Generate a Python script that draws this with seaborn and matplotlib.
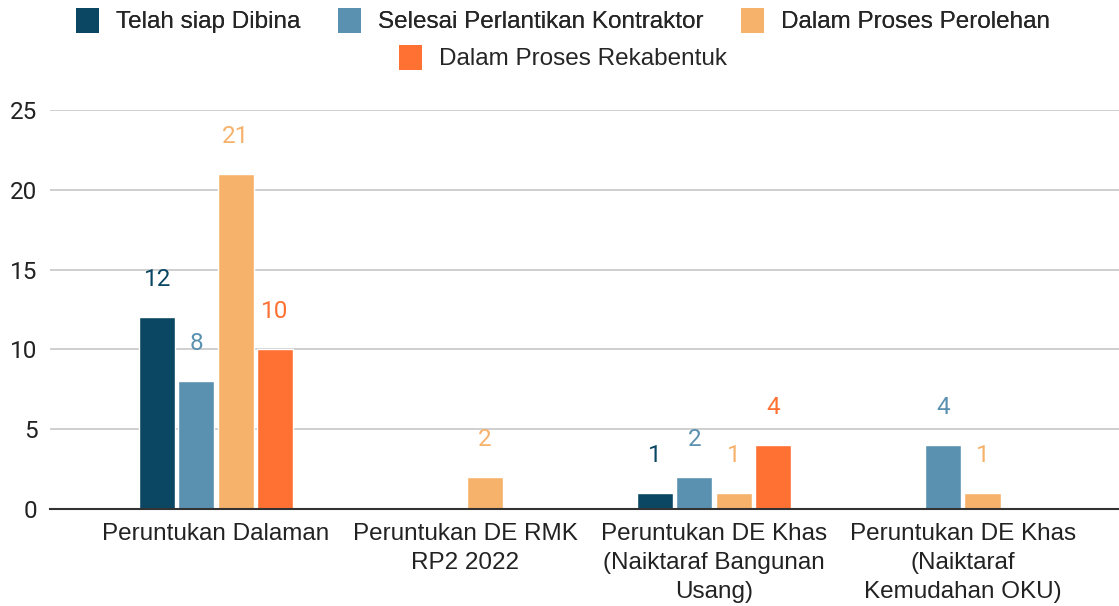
import matplotlib.pyplot as plt
import pandas as pd
import seaborn as sns

# Chart data
categories = [
    "Peruntukan Dalaman",
    "Peruntukan DE RMK\nRP2 2022",
    "Peruntukan DE Khas\n(Naiktaraf Bangunan\nUsang)",
    "Peruntukan DE Khas\n(Naiktaraf\nKemudahan OKU)",
]
series_names = [
    "Telah siap Dibina",
    "Selesai Perlantikan Kontraktor",
    "Dalam Proses Perolehan",
    "Dalam Proses Rekabentuk",
]
telah_siap = [12, 0, 1, 0]
selesai_lantik = [8, 0, 2, 4]
proses_perolehan = [21, 2, 1, 1]
proses_rekabentuk = [10, 0, 4, 0]
y_ticks = [0, 5, 10, 15, 20, 25]

colors = ["#0b4763", "#5b91b0", "#f6b26b", "#ff7133"]

values = [telah_siap, selesai_lantik, proses_perolehan, proses_rekabentuk]
rows = []
for name, vals in zip(series_names, values):
    for cat, v in zip(categories, vals):
        rows.append({"category": cat, "series": name, "value": v})
df = pd.DataFrame(rows)

sns.set_style("white")
plt.rcParams["font.family"] = ["Liberation Sans", "DejaVu Sans"]

FS = 17.5

fig = plt.figure(figsize=(11.19, 6.06), dpi=100)
ax = fig.add_axes([0.0447, 0.160, 0.9553, 0.6585])

sns.barplot(
    data=df, x="category", y="value", hue="series",
    order=categories, hue_order=series_names, palette=colors,
    width=0.63, gap=0.08, saturation=1, legend=False, ax=ax,
)

# Value labels above bars
for container, color in zip(ax.containers, colors):
    for bar in container:
        h = bar.get_height()
        if h <= 0:
            continue
        ax.annotate(
            f"{int(h)}", (bar.get_x() + bar.get_width() / 2, h),
            xytext=(0, 27), textcoords="offset points",
            ha="center", va="center", fontsize=FS, color=color,
            family=["Roboto", "DejaVu Sans"],
        )

ax.set_ylim(0, 25)
ax.set_xlim(-0.667, 3.627)
ax.set_yticks(y_ticks)
ax.set_yticklabels([str(t) for t in y_ticks], family=["Roboto", "DejaVu Sans"],
                   fontsize=FS, color="#222222")
ax.set_xticks(range(len(categories)))
ax.set_xticklabels(categories, fontsize=FS, color="#222222", linespacing=1.42)
ax.tick_params(axis="both", length=0)
ax.tick_params(axis="x", pad=10)
ax.tick_params(axis="y", pad=9)
ax.set_xlabel("")
ax.set_ylabel("")
ax.yaxis.grid(True, color="#cccccc", linewidth=1.3)
ax.set_axisbelow(True)
for side in ["top", "right", "left"]:
    ax.spines[side].set_visible(False)
ax.spines["bottom"].set_color("#333333")
ax.spines["bottom"].set_linewidth(1.5)

# Legend: three entries on first row, one centered on second
handles = [plt.Rectangle((0, 0), 1, 1, facecolor=c, edgecolor="none") for c in colors]
leg_kw = dict(frameon=False, fontsize=FS, handlelength=0.95, handleheight=1.2,
              handletextpad=0.7, borderpad=0.2)
leg1 = fig.legend(
    handles[:3], series_names[:3], loc="center", bbox_to_anchor=(0.503, 0.966),
    ncol=3, columnspacing=1.55, **leg_kw,
)
fig.legend(
    handles[3:], series_names[3:], loc="center", bbox_to_anchor=(0.503, 0.905),
    ncol=1, **leg_kw,
)
fig.add_artist(leg1)

fig.savefig("out.png", dpi=100)
